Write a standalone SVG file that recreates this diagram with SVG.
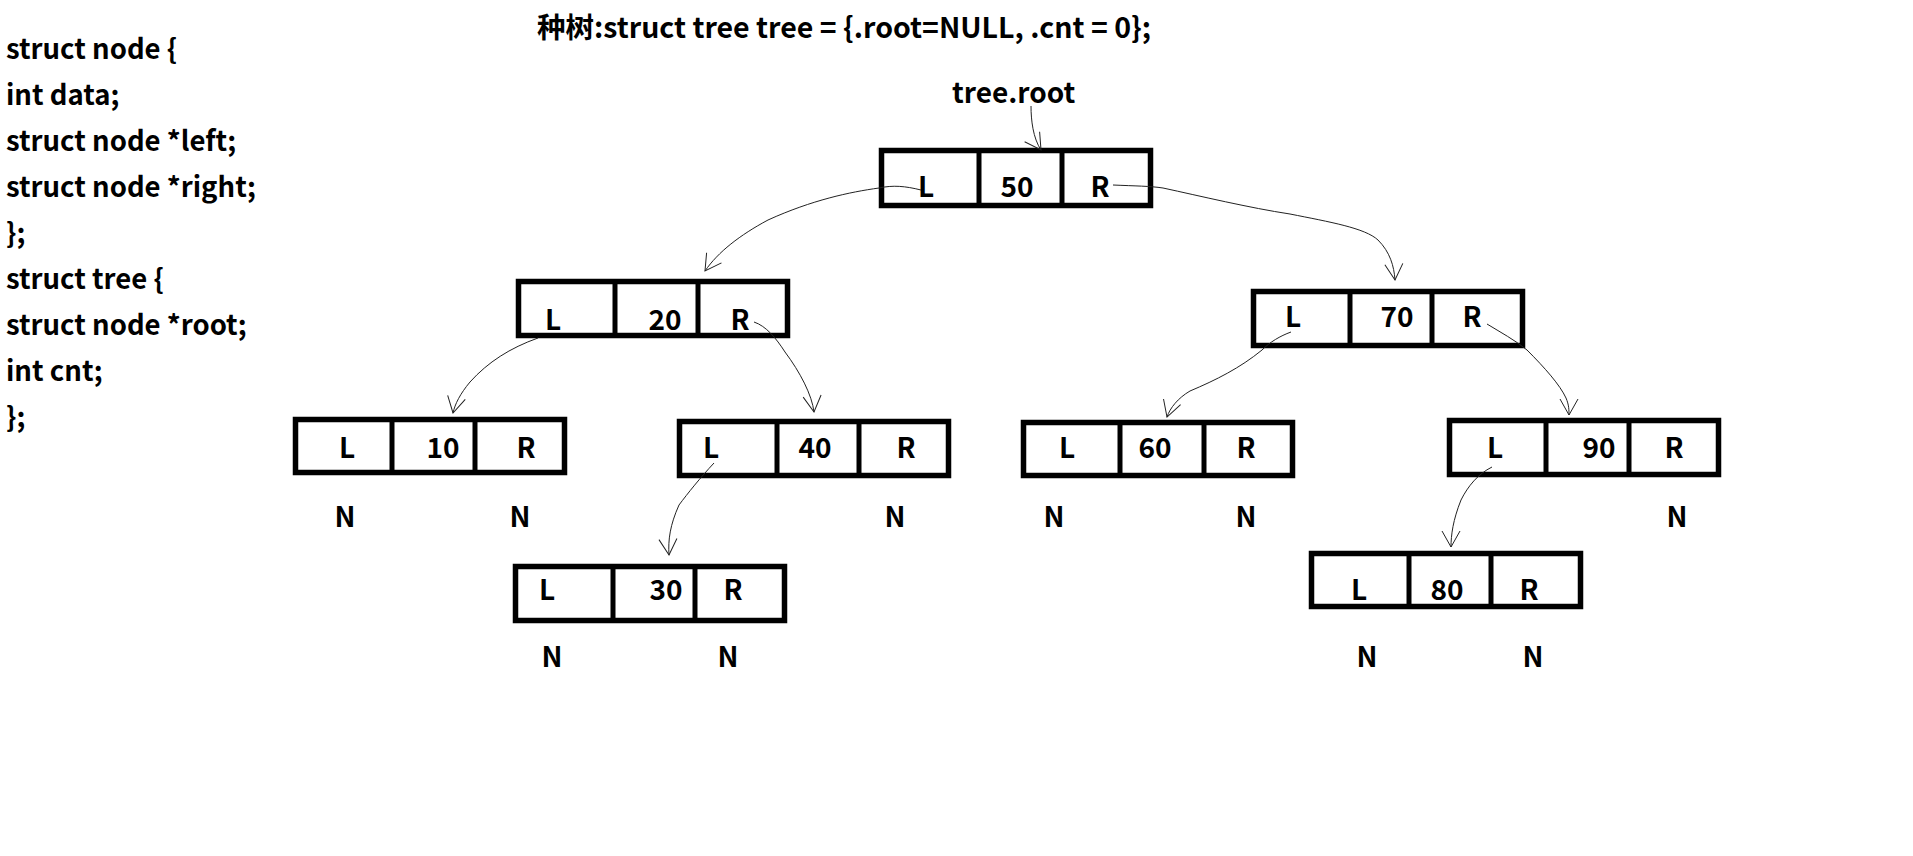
<svg xmlns="http://www.w3.org/2000/svg" width="1913" height="856" viewBox="0 0 1913 856">
<defs>
<style>
.t{font-family:"Noto Sans CJK SC","Noto Sans",sans-serif;font-weight:700;font-size:28px;fill:#000}
.code{font-size:27.5px}
.ttl{font-size:28.5px}
.m{text-anchor:middle}
.box{fill:#fff;stroke:#000;stroke-width:5.5}
.dv{stroke:#000;stroke-width:5}
.conn{fill:none;stroke:#222;stroke-width:1}
</style>
<marker id="arr" viewBox="-20 -12 24 24" refX="0" refY="0" markerWidth="24" markerHeight="24" markerUnits="userSpaceOnUse" orient="auto">
<path d="M-16,-9 L0,0 L-16,9" fill="none" stroke="#222" stroke-width="1"/>
</marker>
</defs>
<rect width="1913" height="856" fill="#fff"/>
<g id="code" class="t code">
<text x="6" y="59">struct node {</text>
<text x="6" y="105">int data;</text>
<text x="6" y="151">struct node *left;</text>
<text x="6" y="197">struct node *right;</text>
<text x="6" y="243">};</text>
<text x="6" y="289">struct tree {</text>
<text x="6" y="335">struct node *root;</text>
<text x="6" y="381">int cnt;</text>
<text x="6" y="427">};</text>
</g>
<g id="title"><text class="t ttl" x="537" y="38">种树:struct tree tree = {.root=NULL, .cnt = 0};</text></g>
<g id="treeroot"><text class="t" x="952" y="103">tree.root</text></g>
<g id="n50"><rect class="box" x="881.5" y="150.5" width="269" height="55"/><line class="dv" x1="979" y1="150" x2="979" y2="206"/><line class="dv" x1="1062" y1="150" x2="1062" y2="206"/><text class="t m" x="926" y="197">L</text><text class="t m" x="1017" y="197">50</text><text class="t m" x="1100" y="197">R</text></g>
<g id="n20"><rect class="box" x="518.5" y="281.5" width="269" height="54"/><line class="dv" x1="615" y1="281" x2="615" y2="336"/><line class="dv" x1="698" y1="281" x2="698" y2="336"/><text class="t m" x="553" y="330">L</text><text class="t m" x="665" y="330">20</text><text class="t m" x="740" y="330">R</text></g>
<g id="n70"><rect class="box" x="1253.5" y="291.5" width="269" height="54"/><line class="dv" x1="1350" y1="291" x2="1350" y2="346"/><line class="dv" x1="1432" y1="291" x2="1432" y2="346"/><text class="t m" x="1293" y="327">L</text><text class="t m" x="1397" y="327">70</text><text class="t m" x="1472" y="327">R</text></g>
<g id="n10"><rect class="box" x="295.5" y="419.5" width="269" height="53"/><line class="dv" x1="392" y1="419" x2="392" y2="473"/><line class="dv" x1="475" y1="419" x2="475" y2="473"/><text class="t m" x="347" y="458">L</text><text class="t m" x="443" y="458">10</text><text class="t m" x="526" y="458">R</text></g>
<g id="n40"><rect class="box" x="679.5" y="421.5" width="269" height="54"/><line class="dv" x1="777" y1="421" x2="777" y2="476"/><line class="dv" x1="859" y1="421" x2="859" y2="476"/><text class="t m" x="711" y="458">L</text><text class="t m" x="815" y="458">40</text><text class="t m" x="906" y="458">R</text></g>
<g id="n60"><rect class="box" x="1023.5" y="422.5" width="269" height="53"/><line class="dv" x1="1120" y1="422" x2="1120" y2="476"/><line class="dv" x1="1204" y1="422" x2="1204" y2="476"/><text class="t m" x="1067" y="458">L</text><text class="t m" x="1155" y="458">60</text><text class="t m" x="1246" y="458">R</text></g>
<g id="n90"><rect class="box" x="1449.5" y="420.5" width="269" height="54"/><line class="dv" x1="1546" y1="420" x2="1546" y2="475"/><line class="dv" x1="1629" y1="420" x2="1629" y2="475"/><text class="t m" x="1495" y="458">L</text><text class="t m" x="1599" y="458">90</text><text class="t m" x="1674" y="458">R</text></g>
<g id="n30"><rect class="box" x="515.5" y="566.5" width="269" height="54"/><line class="dv" x1="613" y1="566" x2="613" y2="621"/><line class="dv" x1="695" y1="566" x2="695" y2="621"/><text class="t m" x="547" y="600">L</text><text class="t m" x="666" y="600">30</text><text class="t m" x="733" y="600">R</text></g>
<g id="n80"><rect class="box" x="1311.5" y="553.5" width="269" height="53"/><line class="dv" x1="1409" y1="553" x2="1409" y2="607"/><line class="dv" x1="1491" y1="553" x2="1491" y2="607"/><text class="t m" x="1359" y="600">L</text><text class="t m" x="1447" y="600">80</text><text class="t m" x="1529" y="600">R</text></g>
<g id="nulls" class="t m">
<text x="345" y="527">N</text><text x="520" y="527">N</text><text x="895" y="527">N</text><text x="1054" y="527">N</text><text x="1246" y="527">N</text><text x="1677" y="527">N</text>
<text x="552" y="667">N</text><text x="728" y="667">N</text><text x="1367" y="667">N</text><text x="1533" y="667">N</text>
</g>
<g id="connectors" class="conn" marker-end="url(#arr)">
<path d="M1031,106 C1031,120 1033,138 1041,150"/>
<path d="M921,190 C905,186 893,185 879,188 C850,192 812,200 768,220 C740,235 718,252 705,271"/>
<path d="M1113,185 C1135,186 1150,186 1163,188 C1200,196 1250,208 1290,214 C1330,222 1365,228 1378,240 C1390,252 1394,266 1395,280"/>
<path d="M538,338 C510,348 488,362 470,382 C460,394 455,404 453,413"/>
<path d="M754,322 C766,326 776,338 785,352 C800,372 812,395 814,412"/>
<path d="M1291,332 C1280,336 1270,342 1262,350 C1240,368 1216,380 1190,391 C1178,398 1170,408 1167,417"/>
<path d="M1487,324 C1500,332 1515,340 1527,350 C1545,368 1560,385 1566,398 C1569,405 1569,410 1569,415"/>
<path d="M714,463 C700,478 688,493 679,505 C670,525 668,540 669,555"/>
<path d="M1492,467 C1478,474 1468,486 1461,500 C1453,520 1451,535 1451,547"/>
</g>
</svg>
